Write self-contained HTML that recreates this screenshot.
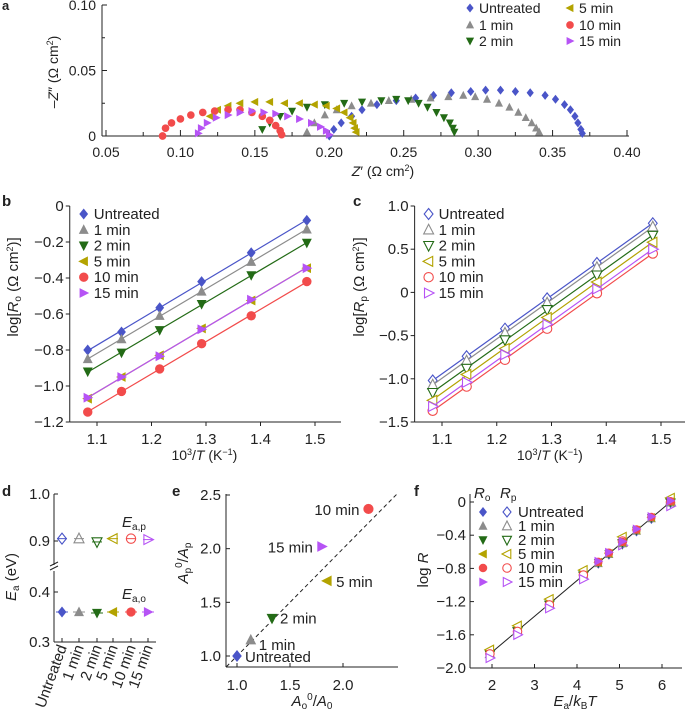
<!DOCTYPE html>
<html><head><meta charset="utf-8"><style>
html,body{margin:0;padding:0;background:#fff;}
svg{display:block;font-family:"Liberation Sans",sans-serif;}
</style></head><body>
<svg id="fig" width="685" height="711" viewBox="0 0 685 711"></svg>
<script>
const names=['Untreated','1 min','2 min','5 min','10 min','15 min'];
const colors=['#4a55c8','#8c8c8c','#236b16','#b3a300','#f24b4b','#b653f5'];
const shapes=['diamond','up','down','left','circle','right'];
// Panel a: Nyquist data [Z', -Z'']
const nyqUntreated=[[0.200,0],[0.203,0.005],[0.208,0.01],[0.215,0.015],[0.222,0.02],[0.232,0.024],[0.245,0.027],[0.258,0.029],[0.27,0.031],[0.282,0.033],[0.295,0.034],[0.305,0.035],[0.315,0.035],[0.325,0.034],[0.335,0.033],[0.345,0.031],[0.352,0.028],[0.358,0.024],[0.362,0.02],[0.365,0.015],[0.367,0.01],[0.369,0.005],[0.37,0.002]];
const nyq1=[[0.185,0.003],[0.19,0.01],[0.197,0.016],[0.205,0.02],[0.215,0.023],[0.228,0.025],[0.24,0.027],[0.255,0.028],[0.268,0.029],[0.28,0.03],[0.29,0.031],[0.298,0.03],[0.306,0.028],[0.314,0.025],[0.321,0.022],[0.327,0.018],[0.332,0.014],[0.336,0.01],[0.339,0.006],[0.341,0.003]];
const nyq2=[[0.155,0.005],[0.16,0.01],[0.167,0.015],[0.175,0.019],[0.185,0.022],[0.197,0.024],[0.21,0.025],[0.222,0.026],[0.235,0.027],[0.245,0.028],[0.253,0.027],[0.26,0.025],[0.266,0.022],[0.272,0.018],[0.277,0.014],[0.281,0.01],[0.283,0.006],[0.284,0.003]];
const nyq5=[[0.12,0.015],[0.125,0.02],[0.132,0.023],[0.14,0.025],[0.15,0.026],[0.16,0.026],[0.17,0.025],[0.18,0.025],[0.19,0.024],[0.198,0.023],[0.205,0.021],[0.21,0.018],[0.214,0.014],[0.216,0.01],[0.217,0.006],[0.218,0.003]];
const nyq10=[[0.088,0],[0.09,0.006],[0.094,0.01],[0.1,0.013],[0.107,0.016],[0.115,0.018],[0.123,0.019],[0.132,0.02],[0.14,0.02],[0.148,0.018],[0.155,0.015],[0.16,0.012],[0.164,0.008],[0.167,0.004],[0.168,0.001]];
const nyq15=[[0.112,0.002],[0.114,0.006],[0.118,0.01],[0.124,0.014],[0.132,0.016],[0.14,0.018],[0.148,0.019],[0.156,0.018],[0.164,0.017],[0.172,0.015],[0.18,0.013],[0.188,0.01],[0.194,0.007],[0.198,0.004],[0.2,0.001]];
const nyq=[nyqUntreated,nyq1,nyq2,nyq5,nyq10,nyq15];
const aXTicks=[0.05,0.10,0.15,0.20,0.25,0.30,0.35,0.40];
const aYTicks=[0,0.05,0.10];
// Panel b/c
const invT=[1.083,1.145,1.215,1.292,1.383,1.485];
const roUntreated=[-0.80,-0.70,-0.565,-0.42,-0.26,-0.08];
const ro1=[-0.85,-0.74,-0.61,-0.475,-0.31,-0.13];
const ro2=[-0.92,-0.815,-0.69,-0.545,-0.385,-0.205];
const ro5=[-1.07,-0.95,-0.83,-0.68,-0.525,-0.345];
const ro10=[-1.145,-1.03,-0.905,-0.765,-0.61,-0.42];
const ro15=[-1.065,-0.95,-0.835,-0.685,-0.52,-0.345];
const ro=[roUntreated,ro1,ro2,ro5,ro10,ro15];
const rpUntreated=[-1.02,-0.74,-0.42,-0.07,0.34,0.80];
const rp1=[-1.07,-0.79,-0.47,-0.12,0.29,0.76];
const rp2=[-1.16,-0.88,-0.55,-0.2,0.2,0.66];
const rp5=[-1.25,-0.95,-0.65,-0.29,0.12,0.58];
const rp10=[-1.37,-1.09,-0.78,-0.42,-0.01,0.45];
const rp15=[-1.32,-1.04,-0.72,-0.37,0.04,0.50];
const rp=[rpUntreated,rp1,rp2,rp5,rp10,rp15];
const bYTicks=[0,-0.2,-0.4,-0.6,-0.8,-1.0,-1.2];
const cYTicks=[1.0,0.5,0,-0.5,-1.0,-1.5];
const bcXTicks=[1.1,1.2,1.3,1.4,1.5];
// Panel d
const eaP=[0.905,0.905,0.898,0.905,0.905,0.903];
const eaO=[0.36,0.36,0.358,0.36,0.36,0.36];
// Panel e
const aoRatio=[1.0,1.13,1.33,1.85,2.24,1.80];
const apRatio=[1.0,1.15,1.35,1.70,2.37,2.02];
const eXTicks=[1.0,1.5,2.0];
const eYTicks=[1.0,1.5,2.0,2.5];
// Panel f
const fXo=[4.5,4.75,5.07,5.4,5.75,6.2];
const fYo=[-0.73,-0.62,-0.49,-0.34,-0.19,0.0];
const fXp=[1.95,2.6,3.35,4.15,5.07,6.2];
const fYpUntreated=[-1.83,-1.55,-1.23,-0.88,-0.49,0.0];
const fYp1=[-1.83,-1.55,-1.23,-0.88,-0.49,0.01];
const fYp2=[-1.84,-1.56,-1.24,-0.89,-0.50,-0.01];
const fYp5=[-1.78,-1.49,-1.17,-0.82,-0.42,0.05];
const fYp10=[-1.83,-1.56,-1.24,-0.88,-0.47,-0.01];
const fYp15=[-1.88,-1.60,-1.28,-0.93,-0.52,-0.05];
const fYp=[fYpUntreated,fYp1,fYp2,fYp5,fYp10,fYp15];
const fXTicks=[2,3,4,5,6];
const fYTicks=[0,-0.4,-0.8,-1.2,-1.6,-2.0];

function sc(d0,d1,p0,p1){return v=>p0+(v-d0)*(p1-p0)/(d1-d0);}
function mk(shape,x,y,r,c,fill,name){
  const st=`fill="${fill?c:'#fff'}" stroke="${c}" stroke-width="${fill?0:1.1}"`;
  if(shape==='circle')return `<circle cx="${x}" cy="${y}" r="${r*0.85}" ${st}/>`;
  let p;
  if(shape==='diamond')p=[[x,y-r],[x+r*0.8,y],[x,y+r],[x-r*0.8,y]];
  if(shape==='up')p=[[x,y-r],[x+r*0.9,y+r*0.75],[x-r*0.9,y+r*0.75]];
  if(shape==='down')p=[[x,y+r],[x+r*0.9,y-r*0.75],[x-r*0.9,y-r*0.75]];
  if(shape==='left')p=[[x-r,y],[x+r*0.75,y-r*0.9],[x+r*0.75,y+r*0.9]];
  if(shape==='right')p=[[x+r,y],[x-r*0.75,y-r*0.9],[x-r*0.75,y+r*0.9]];
  return `<polygon points="${p.map(q=>q[0].toFixed(1)+','+q[1].toFixed(1)).join(' ')}" ${st}/>`;
}
function txt(x,y,s,o){o=o||{};return `<text x="${x}" y="${y}" font-size="${o.fs||14}" text-anchor="${o.a||'middle'}" ${o.w?'font-weight="bold"':''} ${o.t?'transform="'+o.t+'"':''} fill="#222">${s}</text>`;}
function ln(x1,y1,x2,y2,o){o=o||{};return `<line x1="${x1}" y1="${y1}" x2="${x2}" y2="${y2}" stroke="${o.c||'#222'}" stroke-width="${o.sw||1}" ${o.d?'stroke-dasharray="'+o.d+'"':''}/>`;}
let h='';
// ---------- Panel a ----------
{
const X=sc(0.05,0.40,106,627),Y=sc(0,0.10,136,5);
h+=txt(2,10,'a',{w:1,a:'start',fs:13,n:'panel-a-letter'});
h+=ln(102,5,102,136)+ln(102,136,629,136);
aYTicks.forEach(v=>{h+=ln(102,Y(v),107,Y(v),{n:'y-tick'});h+=txt(96,Y(v)+5,v===0?'0':v.toFixed(2),{a:'end',n:'y-tick-label'});});
[0.025,0.075].forEach(v=>{h+=ln(102,Y(v),105,Y(v),{n:'y-minor-tick'});});
aXTicks.forEach(v=>{h+=ln(X(v),136,X(v),130,{n:'x-tick'});h+=txt(X(v),157,v.toFixed(2),{n:'x-tick-label'});});
aXTicks.slice(0,-1).forEach(v=>{h+=ln(X(v+0.025),136,X(v+0.025),132,{n:'x-minor-tick'});});
h+=`<text x="383" y="176" font-size="14" text-anchor="middle" fill="#222"><tspan font-style="italic">Z</tspan>′ (Ω cm<tspan font-size="9" dy="-5">2</tspan><tspan dy="5">)</tspan></text>`;
h+=`<text transform="translate(58,72) rotate(-90)" font-size="14" text-anchor="middle" fill="#222">–<tspan font-style="italic">Z</tspan>″ (Ω cm<tspan font-size="9" dy="-5">2</tspan><tspan dy="5">)</tspan></text>`;
nyq.forEach((s,i)=>s.forEach(p=>{h+=mk(shapes[i],X(p[0]),Y(p[1]),4.5,colors[i],1,'nyquist-point');}));
const lx=[470,470,470,570,570,570],ly=[8,25,41,8,25,41];
names.forEach((n,i)=>{h+=mk(shapes[i],lx[i],ly[i],4.5,colors[i],1,'legend-marker');h+=txt(lx[i]+9,ly[i]+5,n,{a:'start',n:'legend-entry'});});
}
// ---------- Panel b & c ----------
function lineFit(xs,ys){const n=xs.length;let mx=0,my=0;xs.forEach((x,i)=>{mx+=x/n;my+=ys[i]/n;});let sxy=0,sxx=0;xs.forEach((x,i)=>{sxy+=(x-mx)*(ys[i]-my);sxx+=(x-mx)*(x-mx);});const b=sxy/sxx;return [b,my-b*mx];}
function panelBC(letter,lx0,x0,x1,yT,yB,ymax,ymin,ticks,data,fill,ylab,ylx){
  const X=sc(1.1,1.5,x0,x1),Y=sc(ymax,ymin,yT,yB);
  const left=X(1.05);
  h+=txt(lx0,206,letter,{w:1,a:'start',fs:15,n:'panel-'+letter+'-letter'});
  h+=ln(left,yT,left,yB)+ln(left,yB,X(1.5)+26,yB);
  ticks.forEach(v=>{h+=ln(left-4,Y(v),left,Y(v),{n:'y-tick'});h+=txt(left-6,Y(v)+5,v===0?'0':(v<0?'−':'')+Math.abs(v).toFixed(1),{a:'end',fs:15,n:'y-tick-label'});});
  bcXTicks.forEach(v=>{h+=ln(X(v),yB,X(v),yB+4,{n:'x-tick'});h+=txt(X(v),yB+22,v.toFixed(1),{fs:15,n:'x-tick-label'});});
  data.forEach((s,i)=>{const f=lineFit(invT,s);h+=ln(X(invT[0]),Y(f[0]*invT[0]+f[1]),X(invT[5]),Y(f[0]*invT[5]+f[1]),{c:colors[i],sw:1.2,n:'fit-line'});
    s.forEach((v,j)=>{h+=mk(shapes[i],X(invT[j]),Y(v),5.5,colors[i],fill,'data-point');});});
  names.forEach((n,i)=>{const yy=214+i*15.8;h+=mk(shapes[i],left+14,yy,5.5,colors[i],fill,'legend-marker');h+=txt(left+24,yy+5,n,{a:'start',fs:15,n:'legend-entry'});});
  h+=`<text x="${(left+X(1.5))/2+12}" y="460" font-size="14" text-anchor="middle" fill="#222">10<tspan font-size="9" dy="-5">3</tspan><tspan dy="5">/</tspan><tspan font-style="italic">T</tspan> (K<tspan font-size="9" dy="-5">−1</tspan><tspan dy="5">)</tspan></text>`;
  h+=`<text transform="translate(${ylx},287) rotate(-90)" font-size="15" text-anchor="middle" fill="#222">log[<tspan font-style="italic">R</tspan><tspan font-size="10" dy="3">${ylab}</tspan><tspan dy="-3"> (Ω cm</tspan><tspan font-size="9" dy="-5">2</tspan><tspan dy="5">)]</tspan></text>`;
}
panelBC('b',2,97,315,206,422,0,-1.2,bYTicks,ro,1,'o',18);
panelBC('c',353,442,661,206,422,1.0,-1.5,cYTicks,rp,0,'p',364);
// ---------- Panel d ----------
{
const catX=[62,79,97,113,131,148];
const YT=sc(0.9,1.0,541,494),YB=sc(0.3,0.4,642,592);
h+=txt(2,496,'d',{w:1,a:'start',fs:15,n:'panel-d-letter'});
h+=ln(54,494,54,565)+ln(54,571,54,642)+ln(54,642,156,642);
h+=ln(50,566,58,562,{n:'axis-break'})+ln(50,570,58,566,{n:'axis-break'});
[[1.0,YT],[0.9,YT],[0.4,YB],[0.3,YB]].forEach(t=>{h+=ln(54,t[1](t[0]),58,t[1](t[0]),{n:'y-tick'});h+=txt(50,t[1](t[0])+5,t[0].toFixed(1),{a:'end',fs:15,n:'y-tick-label'});});
catX.forEach((x,i)=>{h+=ln(x,642,x,638,{n:'x-tick'});h+=txt(x+5,647,names[i],{a:'end',fs:15,t:`rotate(-70 ${x+5} 647)`,n:'x-tick-label'});
  h+=mk(shapes[i],x,YT(eaP[i]),5.5,colors[i],0,'ea-p-point');h+=ln(x-5,YT(eaP[i]),x+5,YT(eaP[i]),{c:colors[i],n:'error-bar'});
  h+=mk(shapes[i],x,YB(eaO[i]),5.5,colors[i],1,'ea-o-point');h+=ln(x-6,YB(eaO[i]),x+6,YB(eaO[i]),{c:colors[i],n:'error-bar'});});
h+=`<text x="122" y="527" font-size="15" fill="#222"><tspan font-style="italic">E</tspan><tspan font-size="10" dy="3">a,p</tspan></text>`;
h+=`<text x="122" y="599" font-size="15" fill="#222"><tspan font-style="italic">E</tspan><tspan font-size="10" dy="3">a,o</tspan></text>`;
h+=`<text transform="translate(16,577) rotate(-90)" font-size="15" text-anchor="middle" fill="#222"><tspan font-style="italic">E</tspan><tspan font-size="10" dy="3">a</tspan><tspan dy="-3"> (eV)</tspan></text>`;
}
// ---------- Panel e ----------
{
const X=sc(1.0,2.0,237,343),Y=sc(1.0,2.5,656,495);
h+=txt(172,496,'e',{w:1,a:'start',fs:15,n:'panel-e-letter'});
h+=ln(226,494,226,667)+ln(226,667,398,667);
eYTicks.forEach(v=>{h+=ln(226,Y(v),230,Y(v),{n:'y-tick'});h+=txt(221,Y(v)+5,v.toFixed(1),{a:'end',fs:15,n:'y-tick-label'});});
eXTicks.forEach(v=>{h+=ln(X(v),667,X(v),663,{n:'x-tick'});h+=txt(X(v),690,v.toFixed(1),{fs:15,n:'x-tick-label'});});
h+=ln(X(0.9),Y(0.9),X(2.52),Y(2.52),{d:'4,3',n:'parity-line'});
const off=[[8,'start',6],[8,'start',6],[8,'start',5],[9,'start',6],[-9,'end',6],[-9,'end',6]];
aoRatio.forEach((v,i)=>{h+=mk(shapes[i],X(v),Y(apRatio[i]),6,colors[i],1,'ratio-point');h+=txt(X(v)+off[i][0],Y(apRatio[i])+off[i][2]+(i===1?4:0),names[i],{a:off[i][1],fs:15,n:'point-label'});});
h+=`<text x="312" y="706" font-size="15" text-anchor="middle" fill="#222"><tspan font-style="italic">A</tspan><tspan font-size="10" dy="3">o</tspan><tspan font-size="10" dy="-9">0</tspan><tspan dy="6">/</tspan><tspan font-style="italic">A</tspan><tspan font-size="10" dy="3">0</tspan></text>`;
h+=`<text transform="translate(188,563) rotate(-90)" font-size="15" text-anchor="middle" fill="#222"><tspan font-style="italic">A</tspan><tspan font-size="10" dy="3">p</tspan><tspan font-size="10" dy="-9">0</tspan><tspan dy="6">/</tspan><tspan font-style="italic">A</tspan><tspan font-size="10" dy="3">p</tspan></text>`;
}
// ---------- Panel f ----------
{
const X=sc(2,6,492,662),Y=sc(0,-2.0,502,668);
h+=txt(414,496,'f',{w:1,a:'start',fs:15,n:'panel-f-letter'});
h+=ln(470,494,470,668)+ln(470,668,682,668);
fYTicks.forEach(v=>{h+=ln(470,Y(v),474,Y(v),{n:'y-tick'});h+=txt(466,Y(v)+5,v===0?'0':'−'+Math.abs(v).toFixed(1),{a:'end',fs:15,n:'y-tick-label'});});
fXTicks.forEach(v=>{h+=ln(X(v),668,X(v),664,{n:'x-tick'});h+=txt(X(v),690,String(v),{fs:15,n:'x-tick-label'});});
h+=ln(X(1.95),Y(-1.83),X(6.22),Y(0.01),{n:'fit-line'});
names.forEach((n,i)=>{fXp.forEach((x,j)=>{h+=mk(shapes[i],X(x),Y(fYp[i][j]),5,colors[i],0,'rp-point');});});
names.forEach((n,i)=>{fXo.forEach((x,j)=>{h+=mk(shapes[i],X(x),Y(fYo[j]+(i-2.5)*0.006),5,colors[i],1,'ro-point');});});
h+=`<text x="474" y="498" font-size="15" fill="#222"><tspan font-style="italic">R</tspan><tspan font-size="10" dy="3">o</tspan></text>`;
h+=`<text x="500" y="498" font-size="15" fill="#222"><tspan font-style="italic">R</tspan><tspan font-size="10" dy="3">p</tspan></text>`;
names.forEach((n,i)=>{const yy=512+i*14;h+=mk(shapes[i],483,yy,5,colors[i],1,'legend-marker');h+=mk(shapes[i],507,yy,5,colors[i],0,'legend-marker');h+=txt(518,yy+5,n,{a:'start',fs:15,n:'legend-entry'});});
h+=`<text x="575" y="706" font-size="15" text-anchor="middle" fill="#222"><tspan font-style="italic">E</tspan><tspan font-size="10" dy="3">a</tspan><tspan dy="-3">/</tspan><tspan font-style="italic">k</tspan><tspan font-size="10" dy="3">B</tspan><tspan dy="-3" font-style="italic">T</tspan></text>`;
h+=`<text transform="translate(428,570) rotate(-90)" font-size="15" text-anchor="middle" fill="#222">log <tspan font-style="italic">R</tspan></text>`;
}
document.getElementById('fig').innerHTML=h;
</script>
</body></html>
